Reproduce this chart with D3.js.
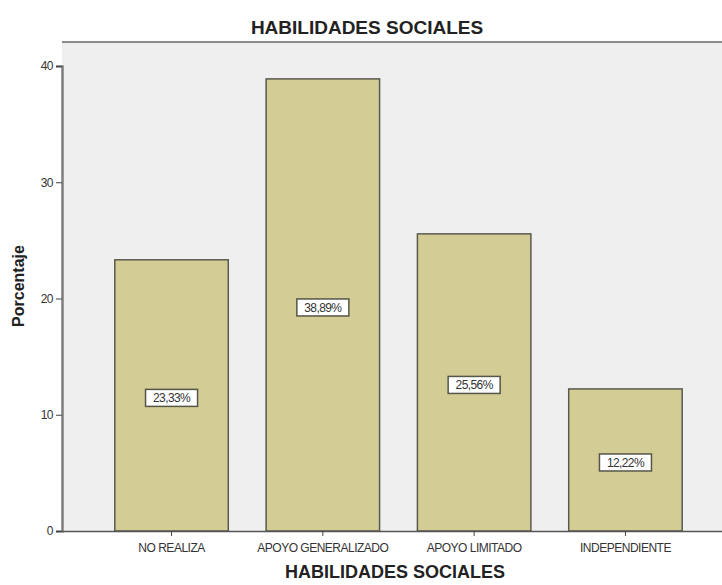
<!DOCTYPE html>
<html>
<head>
<meta charset="utf-8">
<script src="https://cdn.jsdelivr.net/npm/d3@7"></script>
<style>
  html, body { margin: 0; padding: 0; background: #ffffff; }
  svg { display: block; }
</style>
</head>
<body>
<svg id="chart" width="722" height="585"></svg>
<script>
// Categories and percentages
const categories = ["NO REALIZA", "APOYO GENERALIZADO", "APOYO LIMITADO", "INDEPENDIENTE"];
const percentages = [23.33, 38.89, 25.56, 12.22];
const yTicks = [0, 10, 20, 30, 40];
const chartTitle = "HABILIDADES SOCIALES";
const xTitle = "HABILIDADES SOCIALES";
const yTitle = "Porcentaje";

const svg = d3.select("#chart");
const plot = { left: 62, right: 735, top: 42, bottom: 531 };
const font = "Arial, 'Liberation Sans', sans-serif";

const x = d3.scaleBand()
  .domain(categories)
  .range([plot.left, plot.right])
  .paddingInner(0.25)
  .paddingOuter(0.349);

const y = d3.scaleLinear()
  .domain([0, 40])
  .range([plot.bottom, plot.bottom - 465]);

// plot background
svg.append("rect")
  .attr("x", plot.left).attr("y", plot.top)
  .attr("width", plot.right - plot.left).attr("height", plot.bottom - plot.top)
  .attr("fill", "#efefef");

// top frame line
svg.append("line")
  .attr("x1", plot.left).attr("x2", plot.right)
  .attr("y1", plot.top).attr("y2", plot.top)
  .attr("stroke", "#8c8c8c").attr("stroke-width", 2);

// bars
svg.append("g").selectAll("rect")
  .data(categories)
  .join("rect")
  .attr("x", d => x(d))
  .attr("y", (d, i) => y(percentages[i]))
  .attr("width", x.bandwidth())
  .attr("height", (d, i) => y(0) - y(percentages[i]))
  .attr("fill", "#d3cc95")
  .attr("stroke", "#5a5a50")
  .attr("stroke-width", 1.5);

// y axis
const yAxis = svg.append("g")
  .attr("transform", `translate(${plot.left},0)`)
  .call(d3.axisLeft(y).tickValues(yTicks).tickSize(6).tickPadding(3).tickFormat(d3.format("d")));
yAxis.select(".domain").attr("stroke", "#7d7d7d").attr("stroke-width", 2.5);
yAxis.selectAll(".tick line").attr("stroke", "#444");
yAxis.selectAll(".tick text")
  .attr("font-family", font)
  .attr("font-size", 12).attr("fill", "#333").attr("letter-spacing", -0.5);

// x axis
const xAxis = svg.append("g")
  .attr("transform", `translate(0,${plot.bottom})`)
  .call(d3.axisBottom(x).tickSize(5).tickPadding(7).tickSizeOuter(0));
xAxis.select(".domain").attr("stroke", "#555").attr("stroke-width", 1.5);
xAxis.selectAll(".tick line").attr("stroke", "#444");
xAxis.selectAll(".tick text")
  .attr("font-family", font)
  .attr("font-size", 12).attr("fill", "#333")
  .attr("letter-spacing", -0.5);

// value labels
const fmt = v => v.toFixed(2).replace(".", ",") + "%";
const labels = svg.append("g").selectAll("g")
  .data(categories)
  .join("g")
  .attr("transform", (d, i) => `translate(${x(d) + x.bandwidth() / 2},${(y(percentages[i]) + y(0)) / 2 + 3})`);
labels.append("rect")
  .attr("x", -26).attr("y", -9).attr("width", 52).attr("height", 17)
  .attr("fill", "#ffffff").attr("stroke", "#555548").attr("stroke-width", 1.5);
labels.append("text")
  .attr("text-anchor", "middle").attr("dy", "0.35em").attr("y", -0.5)
  .attr("font-family", font)
  .attr("font-size", 12).attr("fill", "#333").attr("letter-spacing", -0.6)
  .text((d, i) => fmt(percentages[i]));

// titles
svg.append("text")
  .attr("x", 367).attr("y", 34)
  .attr("text-anchor", "middle")
  .attr("font-family", font)
  .attr("font-size", 19).attr("font-weight", "bold").attr("fill", "#222")
  .text(chartTitle);

svg.append("text")
  .attr("x", 395).attr("y", 578)
  .attr("text-anchor", "middle")
  .attr("font-family", font)
  .attr("font-size", 18).attr("font-weight", "bold").attr("fill", "#222")
  .text(xTitle);

svg.append("text")
  .attr("transform", "translate(24,286) rotate(-90)")
  .attr("text-anchor", "middle")
  .attr("font-family", font)
  .attr("font-size", 16).attr("font-weight", "bold").attr("fill", "#222")
  .text(yTitle);
</script>
</body>
</html>
